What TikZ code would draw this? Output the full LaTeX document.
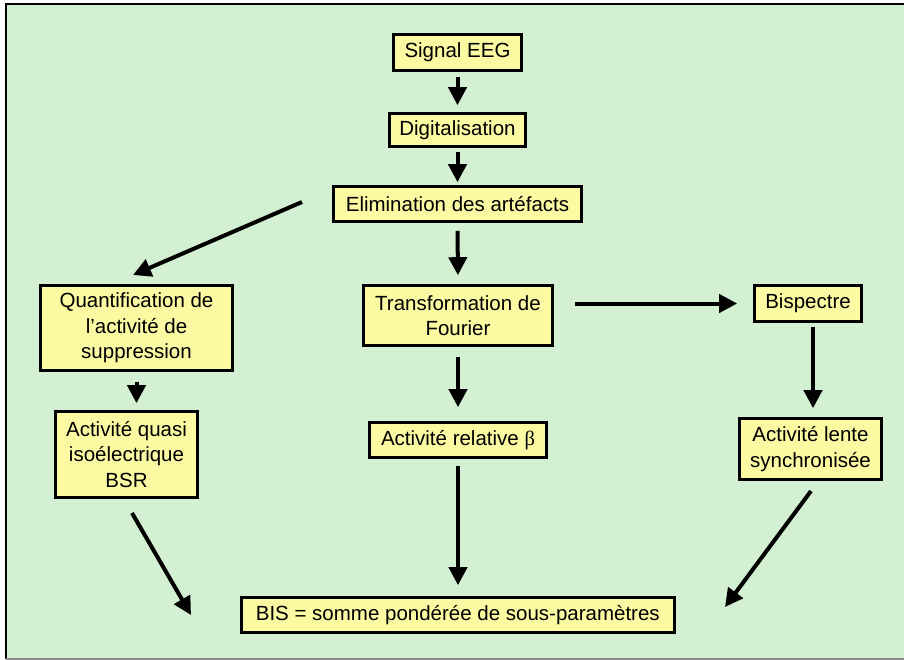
\documentclass[tikz,border=0pt]{standalone}
\usepackage{fontspec}
\setmainfont{Liberation Sans}
\newfontfamily\grkfont{Liberation Serif}
\usetikzlibrary{arrows.meta,shadows}
\definecolor{bggreen}{HTML}{D3F0D3}
\definecolor{boxyellow}{HTML}{FBF9A2}
\tikzset{
  stage/.style={draw=black, line width=2.6pt, fill=boxyellow, inner sep=0pt,
    align=center, font=\fontsize{20.5}{25.5}\selectfont,
    drop shadow={shadow xshift=1.5pt, shadow yshift=-1.5pt, fill=black!45, opacity=0.6}},
  flow/.style={line width=4pt, -{Triangle[length=18pt,width=18pt]}}
}
\begin{document}
\begin{tikzpicture}[x=1pt,y=-1pt]
\useasboundingbox (0,0) rectangle (904,660);
% panel
\fill[white] (0,0) rectangle (904,660);
\fill[bggreen] (6,4.5) rectangle (904,659);
\draw[black, line width=2pt] (6,659) -- (6,4.5) -- (904,4.5);
\draw[black!45, line width=1.5pt] (6,659) -- (904,659);

% stages
\node[stage, minimum width=128, minimum height=36] (sig) at (457.5,52.5) {Signal EEG};
\node[stage, minimum width=136, minimum height=33] (dig) at (457.5,130) {Digitalisation};
\node[stage, minimum width=248, minimum height=35] (elim) at (457.5,204) {Elimination des artéfacts};
\node[stage, minimum width=192, minimum height=85] (quant) at (136.5,328) {Quantification de\\l’activité de\\suppression};
\node[stage, minimum width=142, minimum height=86] (quasi) at (126.5,454.5) {Activité quasi\\isoélectrique\\BSR};
\node[stage, minimum width=189, minimum height=60] (transf) at (458,315.5) {Transformation de\\Fourier};
\node[stage, minimum width=177, minimum height=35] (beta) at (458,440) {Activité relative {\grkfont β}};
\node[stage, minimum width=107, minimum height=36] (bisp) at (808,303.5) {Bispectre};
\node[stage, minimum width=142, minimum height=61] (lente) at (810.5,449) {Activité lente\\synchronisée};
\node[stage, minimum width=433, minimum height=35] (bis) at (457.8,615) {BIS = somme pondérée de sous-paramètres};

% free ends of the slanted connectors
\coordinate (elimout) at (302,202);
\coordinate (quantin) at (133,275);
\coordinate (quasiout) at (132,513);
\coordinate (bisinl) at (191,615);
\coordinate (lenteout) at (811,491);
\coordinate (bisinr) at (725,607);

% connectors
\draw[flow, shorten <=5pt, shorten >=7pt] (sig.south) -- (dig.north);
\draw[flow, shorten <=4pt, shorten >=3pt] (dig.south) -- (elim.north);
\draw[flow, shorten <=8pt, shorten >=9pt] (elim.south) -- (transf.north);
\draw[flow] (elimout) -- (quantin);
\draw[flow, shorten <=10pt, shorten >=7pt] (quant.south) -- (quant.south |- quasi.north);
\draw[flow, shorten <=10pt, shorten >=14pt] (transf.south) -- (beta.north);
\draw[flow, shorten <=21pt, shorten >=16pt] (transf.east |- bisp.west) -- (bisp.west);
\draw[flow, shorten <=4pt, shorten >=9pt] ([xshift=5pt]bisp.south) -- ([xshift=5pt]bisp.south |- lente.north);
\draw[flow] (quasiout) -- (bisinl);
\draw[flow, shorten <=7pt, shorten >=11pt] (beta.south) -- (beta.south |- bis.north);
\draw[flow] (lenteout) -- (bisinr);
\end{tikzpicture}
\end{document}
